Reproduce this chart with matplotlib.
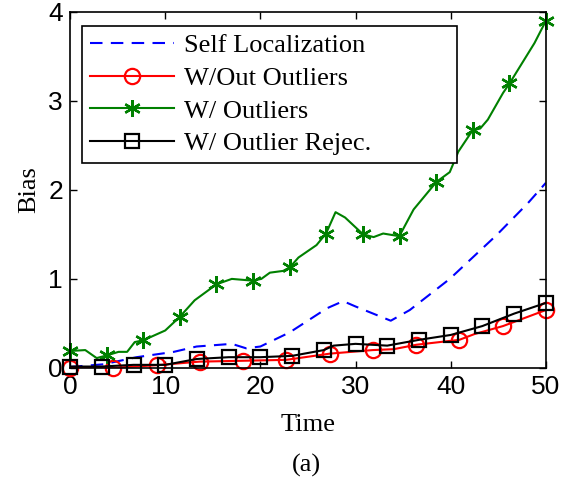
import matplotlib
matplotlib.use('Agg')
import matplotlib.pyplot as plt
from matplotlib.lines import Line2D

# Self Localization (dashed, no markers)
self_x = [0, 3.5, 7.0, 10.9, 13.3, 17.0, 18.5, 20.0, 23.1, 27.0, 28.7, 30.0, 33.7, 35.7, 39.9, 44.8, 48.1, 50]
self_y = [0.01, 0.04, 0.12, 0.18, 0.24, 0.27, 0.22, 0.24, 0.40, 0.67, 0.75, 0.69, 0.53, 0.65, 1.0, 1.49, 1.85, 2.08]

# W/Out Outliers
wo_x = [0, 4.5, 9.1, 13.6, 18.2, 22.7, 26.0, 27.3, 31.8, 34.0, 36.4, 40.9, 42.5, 45.5, 50]
wo_y = [0.0, 0.0, 0.03, 0.07, 0.08, 0.09, 0.14, 0.16, 0.20, 0.21, 0.26, 0.315, 0.38, 0.47, 0.65]
wo_mx = [0, 4.55, 9.09, 13.64, 18.18, 22.73, 27.27, 31.82, 36.36, 40.91, 45.45, 50]
wo_my = [0.0, 0.0, 0.03, 0.07, 0.08, 0.09, 0.16, 0.20, 0.26, 0.315, 0.47, 0.65]

# W/ Outliers
w_x = [0, 1.6, 2.8, 3.85, 5.1, 6.0, 6.8, 7.7, 10.0, 11.5, 13.1, 15.4, 17.0, 19.2, 20.1, 21.0, 22.4,
       23.1, 24.0, 25.9, 26.9, 27.9, 28.9, 30.8, 31.9, 32.9, 34.6, 35.7, 36.1, 38.5, 39.9, 40.8,
       42.3, 43.1, 43.9, 45.5, 46.2, 48.8, 50]
w_y = [0.19, 0.20, 0.11, 0.14, 0.18, 0.18, 0.29, 0.31, 0.42, 0.57, 0.76, 0.94, 1.0, 0.98, 1.0, 1.07, 1.09,
       1.13, 1.24, 1.38, 1.51, 1.75, 1.69, 1.50, 1.47, 1.51, 1.48, 1.70, 1.78, 2.09, 2.20, 2.43,
       2.67, 2.69, 2.79, 3.09, 3.20, 3.65, 3.90]
w_mx = [0, 3.85, 7.69, 11.54, 15.38, 19.23, 23.08, 26.92, 30.77, 34.62, 38.46, 42.31, 46.15, 50]
w_my = [0.19, 0.14, 0.31, 0.57, 0.94, 0.98, 1.13, 1.51, 1.50, 1.48, 2.09, 2.67, 3.20, 3.90]

# W/ Outlier Rejec.
rej_x = [0, 3.33, 6.67, 10.0, 13.33, 16.67, 20.0, 23.33, 26.67, 27.7, 30.0, 33.33, 36.67, 40.0, 43.33, 46.67, 50]
rej_y = [0.015, 0.015, 0.034, 0.034, 0.10, 0.12, 0.12, 0.135, 0.20, 0.25, 0.27, 0.25, 0.315, 0.37, 0.47, 0.61, 0.73]
rej_mx = [0, 3.33, 6.67, 10.0, 13.33, 16.67, 20.0, 23.33, 26.67, 30.0, 33.33, 36.67, 40.0, 43.33, 46.67, 50]
rej_my = [0.015, 0.015, 0.034, 0.034, 0.10, 0.12, 0.12, 0.135, 0.20, 0.27, 0.25, 0.315, 0.37, 0.47, 0.61, 0.73]

labels = ['Self Localization', 'W/Out Outliers', 'W/ Outliers', 'W/ Outlier Rejec.']

serif = 'Liberation Serif'
sans = 'Liberation Sans'
lw = 1.5
fs = 19
dash = (0, (6, 4))

fig = plt.figure(figsize=(5.74, 4.79), dpi=100)
ax = fig.add_axes([0.122, 0.232, 0.829, 0.743])

ax.plot(self_x, self_y, color='blue', linestyle=dash, lw=lw)
ax.plot(wo_x, wo_y, color='red', lw=lw)
ax.plot(wo_mx, wo_my, linestyle='none', marker='o', ms=11, mfc='none', mec='red', mew=1.6, clip_on=False)
ax.plot(w_x, w_y, color='green', lw=lw)
ax.plot(w_mx, w_my, linestyle='none', marker=(6, 2, 0), ms=12, mec='green', mew=1.7, clip_on=False)
ax.plot(rej_x, rej_y, color='black', lw=lw)
ax.plot(rej_mx, rej_my, linestyle='none', marker='s', ms=10, mfc='none', mec='black', mew=1.6, clip_on=False)

ax.set_xlim(0, 50)
ax.set_ylim(0, 4)
ax.set_xticks([0, 10, 20, 30, 40, 50])
ax.set_yticks([0, 1, 2, 3, 4])
ax.tick_params(direction='in', top=True, right=True, length=5, width=1, labelsize=fs, pad=5)
for t in ax.get_xticklabels() + ax.get_yticklabels():
    t.set_family(sans)
for s in ax.spines.values():
    s.set_linewidth(1.2)

ax.set_xlabel('Time', family=serif, fontsize=fs, labelpad=11)
ax.set_ylabel('Bias', family=serif, fontsize=fs, labelpad=6)
fig.text(0.533, 0.015, '(a)', family=serif, fontsize=fs, ha='center')

handles = [
    Line2D([], [], color='blue', linestyle=dash, lw=lw),
    Line2D([], [], color='red', lw=lw, marker='o', ms=11, mfc='none', mec='red', mew=1.6),
    Line2D([], [], color='green', lw=lw, marker=(6, 2, 0), ms=12, mec='green', mew=1.7),
    Line2D([], [], color='black', lw=lw, marker='s', ms=10, mfc='none', mec='black', mew=1.6),
]
leg = ax.legend(handles, labels, loc='upper left', bbox_to_anchor=(0.025, 0.573, 0.788, 0.388),
                mode='expand', borderaxespad=0,
                prop={'family': serif, 'size': fs}, handlelength=3.2, handletextpad=0.35,
                labelspacing=0.35, borderpad=0.3, fancybox=False, framealpha=1)
leg.get_frame().set_edgecolor('black')
leg.get_frame().set_linewidth(1.2)

fig.savefig('out.png', dpi=100)
